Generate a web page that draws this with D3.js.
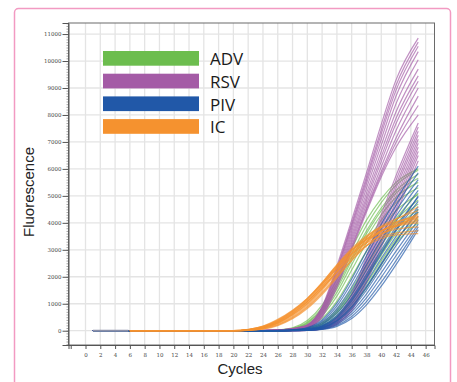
<!DOCTYPE html>
<html>
<head>
<meta charset="utf-8">
<script src="https://cdn.jsdelivr.net/npm/d3@7"></script>
<style>
  body { margin: 0; background: #fff; }
  svg { display: block; font-family: 'Liberation Sans', Arial, sans-serif; }
</style>
</head>
<body>
<div id="chart"></div>
<script>
// Series names and colours (legend order)
const seriesNames = ['ADV', 'RSV', 'PIV', 'IC'];
const seriesColors = ['#6cbd4e', '#a45ba6', '#2158a8', '#f5922f'];

// Cycles where each curve is read; before cycle 20 every curve sits on 0
const baseCycles = [20];
const riseCycles = [22, 24, 26, 28, 30, 32, 34, 36, 38, 40, 42, 45];
// first cycle of the targets and of the internal control
const targetStart = 1;
const icStart = 6;
// grey flat stretch seen at the very start (cycles 1 to 6)
const startCycles = [1, 5.8];
const startValues = [0, 0];

// Fluorescence at riseCycles
const advCurves = [
  [0, 5, 30, 110, 380, 950, 1900, 3050, 4100, 4900, 5500, 6000],
  [0, 5, 25, 90, 320, 850, 1750, 2850, 3900, 4750, 5400, 5950],
  [0, 3, 20, 80, 290, 780, 1650, 2700, 3700, 4550, 5200, 5800],
  [0, 3, 20, 70, 260, 720, 1550, 2600, 3600, 4450, 5100, 5650],
  [0, 3, 15, 60, 220, 640, 1420, 2450, 3450, 4300, 4950, 5500],
  [0, 2, 10, 50, 190, 560, 1280, 2250, 3250, 4100, 4750, 5300],
  [0, 2, 10, 40, 150, 460, 1100, 2000, 2950, 3800, 4450, 5050],
  [0, 0, 5, 25, 90, 300, 780, 1550, 2450, 3350, 4100, 4850],
  [0, 0, 5, 20, 70, 240, 660, 1350, 2250, 3150, 3950, 4700],
  [0, 0, 3, 15, 55, 190, 560, 1200, 2050, 2950, 3750, 4500],
  [0, 0, 3, 12, 45, 160, 480, 1080, 1900, 2800, 3600, 4400],
  [0, 0, 2, 10, 35, 130, 400, 950, 1750, 2600, 3400, 4150],
  [0, 0, 2, 8, 30, 110, 350, 850, 1600, 2450, 3250, 4000],
  [0, 0, 5, 20, 75, 260, 700, 1420, 2350, 3300, 4150, 5100]
];

const rsvCurves = [
  [0, 10, 30, 80, 220, 900, 2400, 4100, 5850, 7650, 9300, 10850],
  [0, 10, 28, 75, 210, 860, 2300, 3980, 5700, 7450, 9100, 10700],
  [0, 9, 26, 70, 200, 830, 2250, 3900, 5580, 7300, 8920, 10550],
  [0, 8, 25, 65, 190, 800, 2180, 3800, 5450, 7100, 8700, 10350],
  [0, 8, 24, 62, 180, 760, 2100, 3680, 5280, 6880, 8420, 10050],
  [0, 7, 22, 58, 170, 720, 2020, 3560, 5100, 6650, 8120, 9700],
  [0, 7, 21, 55, 160, 690, 1950, 3450, 4950, 6450, 7880, 9450],
  [0, 6, 20, 52, 150, 650, 1880, 3350, 4820, 6280, 7680, 9250],
  [0, 6, 19, 50, 140, 620, 1820, 3250, 4680, 6080, 7420, 9000],
  [0, 6, 18, 46, 130, 580, 1750, 3150, 4550, 5900, 7150, 8700],
  [0, 5, 16, 43, 120, 540, 1680, 3080, 4480, 5800, 6980, 8350],
  [0, 5, 15, 40, 110, 500, 1600, 3000, 4400, 5700, 6800, 8000],
  [0, 0, 3, 10, 30, 140, 500, 1350, 2750, 4300, 5750, 7700],
  [0, 0, 3, 9, 27, 125, 460, 1260, 2620, 4150, 5580, 7550],
  [0, 0, 2, 8, 24, 115, 430, 1190, 2520, 4020, 5420, 7400],
  [0, 0, 2, 7, 22, 105, 400, 1120, 2420, 3900, 5280, 7250],
  [0, 0, 2, 6, 20, 95, 370, 1050, 2310, 3770, 5120, 7100],
  [0, 0, 2, 6, 18, 88, 340, 980, 2200, 3640, 4960, 6950],
  [0, 0, 1, 5, 16, 80, 310, 910, 2090, 3500, 4800, 6800],
  [0, 0, 1, 5, 15, 72, 285, 850, 1980, 3370, 4650, 6650],
  [0, 0, 1, 4, 13, 65, 260, 790, 1880, 3240, 4500, 6500],
  [0, 0, 1, 4, 12, 58, 235, 730, 1780, 3100, 4350, 6300]
];

const pivCurves = [
  [0, 2, 10, 35, 120, 400, 1020, 1920, 2950, 3950, 4850, 6100],
  [0, 2, 8, 30, 100, 350, 920, 1780, 2780, 3760, 4650, 5850],
  [0, 2, 8, 25, 85, 300, 820, 1620, 2600, 3550, 4450, 5600],
  [0, 0, 5, 20, 70, 260, 730, 1480, 2430, 3380, 4250, 5400],
  [0, 0, 5, 18, 60, 220, 640, 1340, 2250, 3180, 4050, 5200],
  [0, 0, 4, 15, 50, 190, 570, 1220, 2100, 3000, 3850, 4950],
  [0, 0, 3, 12, 42, 160, 500, 1100, 1950, 2850, 3700, 4800],
  [0, 0, 3, 10, 36, 140, 440, 1000, 1800, 2680, 3500, 4600],
  [0, 0, 2, 8, 30, 120, 390, 900, 1650, 2500, 3320, 4400],
  [0, 0, 2, 7, 25, 100, 340, 800, 1500, 2330, 3150, 4250],
  [0, 0, 2, 6, 20, 85, 290, 710, 1360, 2150, 2950, 4100],
  [0, 0, 1, 5, 16, 70, 240, 620, 1220, 1980, 2780, 3950],
  [0, 0, 1, 4, 12, 55, 200, 530, 1080, 1800, 2600, 3850],
  [0, 0, 1, 3, 10, 45, 160, 450, 960, 1650, 2450, 3750],
  [0, 0, 3, 12, 45, 170, 520, 1150, 2000, 2900, 3750, 5000],
  [0, 0, 2, 8, 28, 110, 370, 870, 1600, 2450, 3300, 4500]
];

const icCurves = [
  [40, 150, 380, 720, 1180, 1780, 2450, 3050, 3520, 3850, 4050, 4250],
  [30, 130, 340, 680, 1120, 1700, 2380, 3000, 3480, 3820, 4020, 4200],
  [35, 140, 360, 700, 1150, 1740, 2400, 2980, 3420, 3720, 3880, 4000],
  [25, 110, 300, 620, 1060, 1640, 2320, 2960, 3480, 3880, 4150, 4450],
  [20, 100, 280, 580, 1000, 1560, 2220, 2860, 3400, 3820, 4120, 4600],
  [45, 160, 400, 740, 1200, 1780, 2420, 2980, 3380, 3620, 3760, 3850],
  [30, 120, 320, 640, 1080, 1650, 2300, 2900, 3380, 3700, 3900, 4100],
  [15, 80, 230, 500, 900, 1430, 2060, 2700, 3250, 3700, 4000, 4300],
  [20, 90, 260, 540, 950, 1500, 2150, 2780, 3300, 3700, 3950, 4150],
  [50, 170, 420, 760, 1200, 1740, 2320, 2850, 3250, 3500, 3620, 3700],
  [10, 60, 190, 440, 820, 1340, 1960, 2600, 3150, 3580, 3880, 4200],
  [25, 100, 290, 590, 1010, 1560, 2200, 2820, 3330, 3680, 3900, 4050],
  [35, 130, 340, 660, 1080, 1600, 2180, 2720, 3150, 3420, 3550, 3600],
  [15, 70, 210, 470, 860, 1390, 2000, 2620, 3150, 3560, 3850, 4350]
];

// Axis ticks
const xTicks = d3.range(-2, 47, 2);
const yTicks = d3.range(0, 11001, 1000);
const yMinorTicks = d3.range(-500, 11401, 100);

function drawChart(container) {
    const width = 457;
    const height = 382;
    const plot = { left: 68.5, top: 23, right: 434.5, bottom: 345 };

    const svg = d3.select(container).append('svg')
        .attr('width', width)
        .attr('height', height);

    // Pink rounded frame round the figure
    svg.append('rect')
        .attr('x', 14.5).attr('y', 8.5)
        .attr('width', 436).attr('height', 390)
        .attr('rx', 4)
        .attr('fill', 'none')
        .attr('stroke', '#f29ac2')
        .attr('stroke-width', 1.5);

    const x = d3.scaleLinear().domain([-2.3, 47.2]).range([plot.left, plot.right]);
    const y = d3.scaleLinear().domain([-530, 11410]).range([plot.bottom, plot.top]);

    // Grid
    const grid = svg.append('g').attr('stroke', '#e4e4e4').attr('stroke-width', 1.3);
    grid.selectAll('.vg').data(xTicks.filter(d => d >= 0))
        .enter().append('line')
        .attr('x1', d => x(d)).attr('x2', d => x(d))
        .attr('y1', plot.top).attr('y2', plot.bottom);
    grid.selectAll('.hg').data(yTicks)
        .enter().append('line')
        .attr('y1', d => y(d)).attr('y2', d => y(d))
        .attr('x1', plot.left).attr('x2', plot.right);

    // Curves, drawn group by group
    const line = d3.line()
        .x(d => x(d[0]))
        .y(d => y(d[1]))
        .curve(d3.curveMonotoneX);

    const toPoints = (vals, start) =>
        [[start, 0]].concat(baseCycles.map(c => [c, 0]), riseCycles.map((c, i) => [c, vals[i]]));

    const groups = [
        { curves: advCurves, color: seriesColors[0], start: targetStart },
        { curves: rsvCurves, color: seriesColors[1], start: targetStart },
        { curves: pivCurves, color: seriesColors[2], start: targetStart },
        { curves: icCurves, color: seriesColors[3], start: icStart }
    ];

    groups.forEach(g => {
        svg.append('g').selectAll('path')
            .data(g.curves)
            .enter().append('path')
            .attr('d', d => line(toPoints(d, g.start)))
            .attr('fill', 'none')
            .attr('stroke', g.color)
            .attr('stroke-width', 1.2)
            .attr('stroke-opacity', 0.68);
    });

    // grey start stretch
    svg.append('path')
        .attr('d', line(startCycles.map((c, i) => [c, startValues[i]])))
        .attr('fill', 'none')
        .attr('stroke', '#8a8fa8')
        .attr('stroke-width', 2);

    // Plot frame
    svg.append('rect')
        .attr('x', plot.left).attr('y', plot.top)
        .attr('width', plot.right - plot.left)
        .attr('height', plot.bottom - plot.top)
        .attr('fill', 'none')
        .attr('stroke', '#6a6a6a')
        .attr('stroke-width', 1);

    // Y axis: minor then major ticks
    svg.append('g')
        .attr('transform', `translate(${plot.left},0)`)
        .call(d3.axisLeft(y).tickValues(yMinorTicks).tickSize(2).tickFormat(''))
        .call(g => g.select('.domain').remove())
        .selectAll('line').attr('stroke', '#666').attr('stroke-width', 0.6);

    const yAxis = svg.append('g')
        .attr('transform', `translate(${plot.left},0)`)
        .call(d3.axisLeft(y).tickValues(yTicks).tickSize(6).tickPadding(1).tickFormat(d3.format('d')));
    yAxis.select('.domain').attr('stroke', '#555');
    yAxis.selectAll('line').attr('stroke', '#555');
    yAxis.selectAll('text').attr('font-size', 5.5).attr('fill', '#444')
        .attr('font-family', "'DejaVu Serif', serif");

    // X axis
    const xAxis = svg.append('g')
        .attr('transform', `translate(0,${plot.bottom})`)
        .call(d3.axisBottom(x).tickValues(xTicks).tickSize(4).tickPadding(4)
            .tickFormat(d => d < 0 ? '' : d));
    xAxis.select('.domain').attr('stroke', '#555');
    xAxis.selectAll('line').attr('stroke', '#555');
    xAxis.selectAll('text').attr('font-size', 5.5).attr('fill', '#444')
        .attr('font-family', "'DejaVu Serif', serif");

    // Axis titles
    svg.append('text')
        .attr('transform', 'translate(34,192) rotate(-90)')
        .attr('text-anchor', 'middle')
        .attr('font-size', 15)
        .attr('fill', '#222')
        .text('Fluorescence');
    svg.append('text')
        .attr('x', 240).attr('y', 374)
        .attr('text-anchor', 'middle')
        .attr('font-size', 15)
        .attr('fill', '#222')
        .text('Cycles');

    // Legend
    const legend = svg.append('g').selectAll('g')
        .data(seriesNames)
        .enter().append('g')
        .attr('transform', (d, i) => `translate(103,${51 + i * 22.7})`);
    legend.append('rect')
        .attr('width', 96).attr('height', 14.7)
        .attr('fill', (d, i) => seriesColors[i]);
    legend.append('text')
        .attr('x', 107).attr('y', 14.3)
        .attr('font-size', 17)
        .attr('font-family', "'Open Sans', 'Liberation Sans', sans-serif")
        .attr('fill', '#1a1a1a')
        .text(d => d);
}

drawChart('#chart');
</script>
</body>
</html>
